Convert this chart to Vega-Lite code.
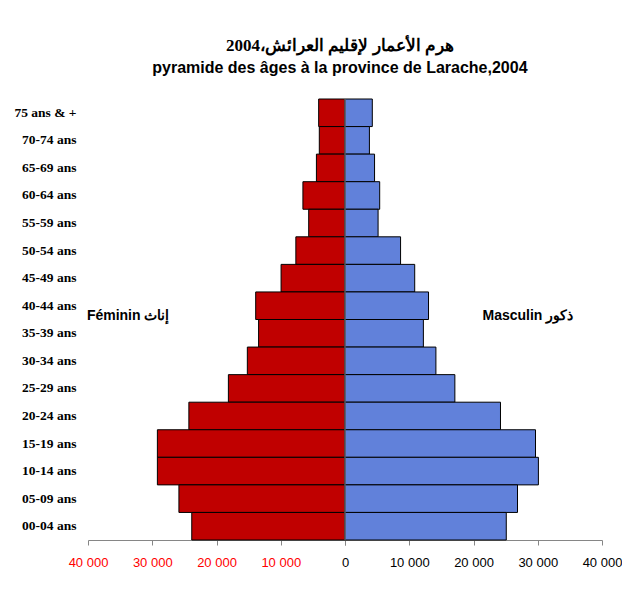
{
  "$schema": "https://vega.github.io/schema/vega-lite/v6.json",
  "autosize": {"type": "pad"},
  "padding": {"left": 13, "top": 36, "right": 0, "bottom": 0},
  "background": "white",
  "bounds": "flush",
  "title": {
    "text": "هرم  الأعمار لإقليم العرائش،2004",
    "subtitle": "pyramide des âges à la province de Larache,2004",
    "anchor": "middle",
    "frame": "bounds",
    "dx": 22,
    "font": "Liberation Serif",
    "fontSize": 17,
    "fontWeight": "bold",
    "color": "black",
    "subtitleFont": "Liberation Sans",
    "subtitleFontSize": 16,
    "subtitleFontWeight": "bold",
    "subtitleColor": "black",
    "subtitlePadding": 5,
    "offset": 22
  },
  "data": {
    "values": [
      {"age": "75 ans & +", "sex": "F", "pop": 4100}, {"age": "75 ans & +", "sex": "M", "pop": 4250},
      {"age": "70-74 ans", "sex": "F", "pop": 4000}, {"age": "70-74 ans", "sex": "M", "pop": 3800},
      {"age": "65-69 ans", "sex": "F", "pop": 4450}, {"age": "65-69 ans", "sex": "M", "pop": 4600},
      {"age": "60-64 ans", "sex": "F", "pop": 6550}, {"age": "60-64 ans", "sex": "M", "pop": 5400},
      {"age": "55-59 ans", "sex": "F", "pop": 5650}, {"age": "55-59 ans", "sex": "M", "pop": 5150},
      {"age": "50-54 ans", "sex": "F", "pop": 7650}, {"age": "50-54 ans", "sex": "M", "pop": 8650},
      {"age": "45-49 ans", "sex": "F", "pop": 9950}, {"age": "45-49 ans", "sex": "M", "pop": 10850},
      {"age": "40-44 ans", "sex": "F", "pop": 13900}, {"age": "40-44 ans", "sex": "M", "pop": 13000},
      {"age": "35-39 ans", "sex": "F", "pop": 13450}, {"age": "35-39 ans", "sex": "M", "pop": 12200},
      {"age": "30-34 ans", "sex": "F", "pop": 15200}, {"age": "30-34 ans", "sex": "M", "pop": 14150},
      {"age": "25-29 ans", "sex": "F", "pop": 18150}, {"age": "25-29 ans", "sex": "M", "pop": 17100},
      {"age": "20-24 ans", "sex": "F", "pop": 24300}, {"age": "20-24 ans", "sex": "M", "pop": 24200},
      {"age": "15-19 ans", "sex": "F", "pop": 29200}, {"age": "15-19 ans", "sex": "M", "pop": 29650},
      {"age": "10-14 ans", "sex": "F", "pop": 29200}, {"age": "10-14 ans", "sex": "M", "pop": 30100},
      {"age": "05-09 ans", "sex": "F", "pop": 25850}, {"age": "05-09 ans", "sex": "M", "pop": 26850},
      {"age": "00-04 ans", "sex": "F", "pop": 23850}, {"age": "00-04 ans", "sex": "M", "pop": 25100}
    ]
  },
  "spacing": 0,
  "config": {"view": {"stroke": null}, "concat": {"spacing": 0}},
  "hconcat": [
    {
      "width": 257,
      "height": 441,
      "layer": [
        {
          "transform": [{"filter": "datum.sex == 'F'"}],
          "mark": {"type": "bar", "color": "#C00000", "stroke": "black", "strokeWidth": 1},
          "encoding": {
            "y": {
              "field": "age", "type": "nominal",
              "sort": ["75 ans & +", "70-74 ans", "65-69 ans", "60-64 ans", "55-59 ans", "50-54 ans", "45-49 ans", "40-44 ans", "35-39 ans", "30-34 ans", "25-29 ans", "20-24 ans", "15-19 ans", "10-14 ans", "05-09 ans", "00-04 ans"],
              "scale": {"paddingInner": 0, "paddingOuter": 0},
              "axis": {"title": null, "domain": false, "ticks": false, "labelFont": "Liberation Serif", "labelFontWeight": "bold", "labelFontSize": 13.5, "labelColor": "black", "labelPadding": 12}
            },
            "x": {
              "field": "pop", "type": "quantitative",
              "scale": {"domain": [0, 40000], "reverse": true, "nice": false},
              "axis": {"title": null, "values": [0, 10000, 20000, 30000, 40000], "grid": false, "labelExpr": "datum.value == 0 ? '' : replace(format(datum.value, ','), ',', ' ')", "labelColor": "#FF0000", "labelFont": "Liberation Sans", "labelFontSize": 13, "labelFlush": false, "labelOverlap": false, "tickColor": "#868686", "domainColor": "#868686", "tickSize": 5, "labelPadding": 11}
            }
          }
        },
        {
          "data": {"values": [{"label": "Féminin  إناث"}]},
          "mark": {"type": "text", "font": "Liberation Sans", "fontWeight": "bold", "fontSize": 14, "color": "black", "dy": 10},
          "encoding": {"x": {"datum": 33750}, "y": {"datum": "40-44 ans"}, "text": {"field": "label"}}
        }
      ]
    },
    {
      "width": 257,
      "height": 441,
      "layer": [
        {
          "transform": [{"filter": "datum.sex == 'M'"}],
          "mark": {"type": "bar", "color": "#6181DA", "stroke": "black", "strokeWidth": 1},
          "encoding": {
            "y": {
              "field": "age", "type": "nominal",
              "sort": ["75 ans & +", "70-74 ans", "65-69 ans", "60-64 ans", "55-59 ans", "50-54 ans", "45-49 ans", "40-44 ans", "35-39 ans", "30-34 ans", "25-29 ans", "20-24 ans", "15-19 ans", "10-14 ans", "05-09 ans", "00-04 ans"],
              "scale": {"paddingInner": 0, "paddingOuter": 0},
              "axis": null
            },
            "x": {
              "field": "pop", "type": "quantitative",
              "scale": {"domain": [0, 40000], "nice": false},
              "axis": {"title": null, "values": [0, 10000, 20000, 30000, 40000], "grid": false, "labelExpr": "replace(format(datum.value, ','), ',', ' ')", "labelColor": "black", "labelFont": "Liberation Sans", "labelFontSize": 13, "labelFlush": false, "labelOverlap": false, "tickColor": "#868686", "domainColor": "#868686", "tickSize": 5, "labelPadding": 11}
            }
          }
        },
        {
          "data": {"values": [{"label": "Masculin ذكور"}]},
          "mark": {"type": "text", "font": "Liberation Sans", "fontWeight": "bold", "fontSize": 14, "color": "black", "dy": 10},
          "encoding": {"x": {"datum": 28460}, "y": {"datum": "40-44 ans"}, "text": {"field": "label"}}
        },
        {
          "data": {"values": [{}]},
          "mark": {"type": "rule", "color": "#808080", "strokeWidth": 1},
          "encoding": {"x": {"datum": 0}}
        }
      ]
    }
  ]
}
